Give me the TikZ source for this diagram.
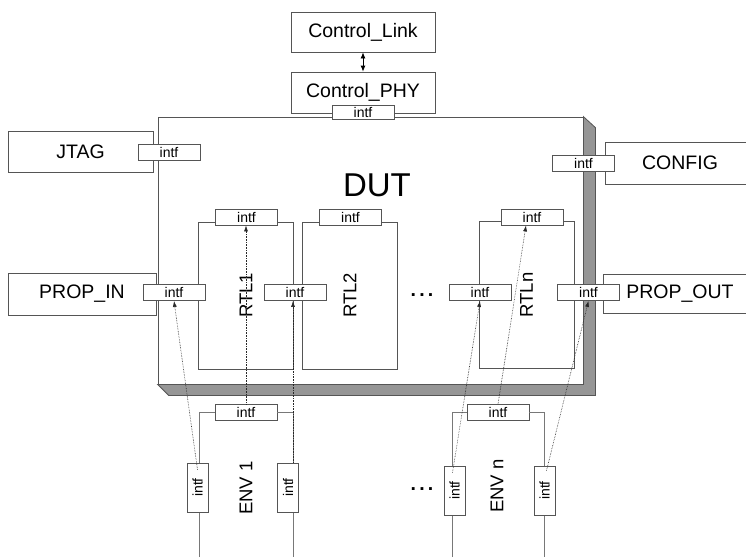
\documentclass[tikz,border=0pt]{standalone}
\usepackage{fontspec}
\setmainfont{Liberation Sans}
\usetikzlibrary{arrows.meta,calc}
\definecolor{FrameGray}{RGB}{85,85,85}
\definecolor{ShadeGray}{RGB}{150,150,150}
\definecolor{EnvGray}{RGB}{120,120,120}
\definecolor{LinkGray}{RGB}{40,40,40}
\tikzset{
  blk/.style={draw=FrameGray,fill=white,line width=.8pt,inner sep=0pt,font=\fontsize{19.5}{22}\selectfont},
  rtl/.style={blk,rotate=90,minimum width=147pt,minimum height=95pt,font=\fontsize{18.5}{20}\selectfont},
  intf/.style={draw=FrameGray,fill=white,line width=.8pt,inner sep=0pt,minimum width=62pt,minimum height=16pt,font=\fontsize{14}{15}\selectfont},
  vintf/.style={intf,rotate=90,minimum width=49pt,minimum height=21pt},
  envline/.style={EnvGray,line width=.8pt},
  lnk/.style={-{Latex[length=6pt,width=4pt]},densely dotted,LinkGray,line width=.6pt},
  dots/.style={font=\bfseries\fontsize{19.5}{22}\selectfont}
}
\begin{document}
\begin{tikzpicture}[x=1pt,y=-1pt,>=Latex]
\clip (0,0) rectangle (746,557);
% control path on top
\node[blk,minimum width=144pt,minimum height=40pt] (clink) at (363,32) {Control\_Link};
\node[blk,minimum width=144pt,minimum height=41pt] (cphy) at (363,92.5) {Control\_PHY};
\draw[<->,>={Latex[length=6pt,width=5pt]},line width=.8pt] (clink.south) -- (cphy.north);
% DUT with its 3d rim
\node[blk,minimum width=425pt,minimum height=267pt] (dut) at (370.5,250.5) {};
\filldraw[fill=ShadeGray,draw=FrameGray,line width=.8pt] (dut.north east) -- ++(12,11) |- ($(dut.south west)+(11,11)$) -- (dut.south west) -- (dut.south east) -- cycle;
\node[font=\fontsize{33}{36}\selectfont] (dutlab) at (377,185) {DUT};
\node[intf,minimum height=14pt] (phyi) at (363,112) {intf};
% side blocks
\node[blk,minimum width=145pt,minimum height=41pt] (jtag) at (80.5,151.5) {JTAG};
\node[blk,minimum width=150pt,minimum height=42pt] (config) at (680,163) {CONFIG};
\node[blk,minimum width=148pt,minimum height=42pt] (pin) at (82,294) {PROP\_IN};
\node[blk,minimum width=154pt,minimum height=39pt] (pout) at (680,294) {PROP\_OUT};
% RTL blocks
\node[rtl] (rtlA) at (246,295.5) {RTL1};
\node[rtl] (rtlB) at (350,295.5) {RTL2};
\node[rtl] (rtlN) at (526.5,295) {RTLn};
\node[dots] (dotsR) at (422,295) {.\,.\,.};
% interfaces
\node[intf] (jtagi) at (169,152) {intf};\node[intf] (cfgi) at (583.5,163.5) {intf};
\node[intf] (pini) at (174,292.5) {intf};\node[intf] (pouti) at (588.5,292.5) {intf};
\node[intf] (rtlAt) at (246.5,217) {intf};\node[intf] (rtlAr) at (295,292.5) {intf};
\node[intf] (rtlBt) at (350.5,217) {intf};
\node[intf] (rtlNt) at (532,217) {intf};\node[intf] (rtlNl) at (480,292.5) {intf};
% environments below
\coordinate (envAfl) at (199,557);\coordinate (envAfr) at (293,557);
\coordinate (envBfl) at (452,557);\coordinate (envBfr) at (544,557);
\node[intf] (envAt) at (246,412.5) {intf};\node[intf] (envBt) at (498,412.5) {intf};
\draw[envline] (envAfl) |- (envAt.west) (envAt.east) -| (envAfr);
\draw[envline] (envBfl) |- (envBt.west) (envBt.east) -| (envBfr);
\node[vintf] (envAl) at (197.5,487.5) {intf};\node[vintf] (envAr) at (288,487.5) {intf};
\node[vintf] (envBl) at (454.5,490.5) {intf};\node[vintf] (envBr) at (544.5,490.5) {intf};
\node[rotate=90,font=\fontsize{18.5}{20}\selectfont] (envAlab) at (246,488) {ENV 1};
\node[rotate=90,font=\fontsize{18.5}{20}\selectfont] (envBlab) at (497,486) {ENV n};
\node[dots] (dotsE) at (422,489) {.\,.\,.};
% links env -> rtl
\draw[lnk] ([yshift=-7pt]envAl.east) -- (pini.south);
\draw[lnk] (envAt.north) -- (envAt.north |- rtlAt.south);
\draw[lnk] ([xshift=5pt]envAr.east) -- ([xshift=5pt]envAr.east |- rtlAr.south);
\draw[lnk] ([yshift=-7pt,xshift=-2pt]envBl.east) -- (rtlNl.south);
\draw[lnk] (envBt.north) -- ([xshift=-6pt]rtlNt.south);
\draw[lnk] ([yshift=-5pt,xshift=2pt]envBr.east) -- (pouti.south);
\end{tikzpicture}
\end{document}
